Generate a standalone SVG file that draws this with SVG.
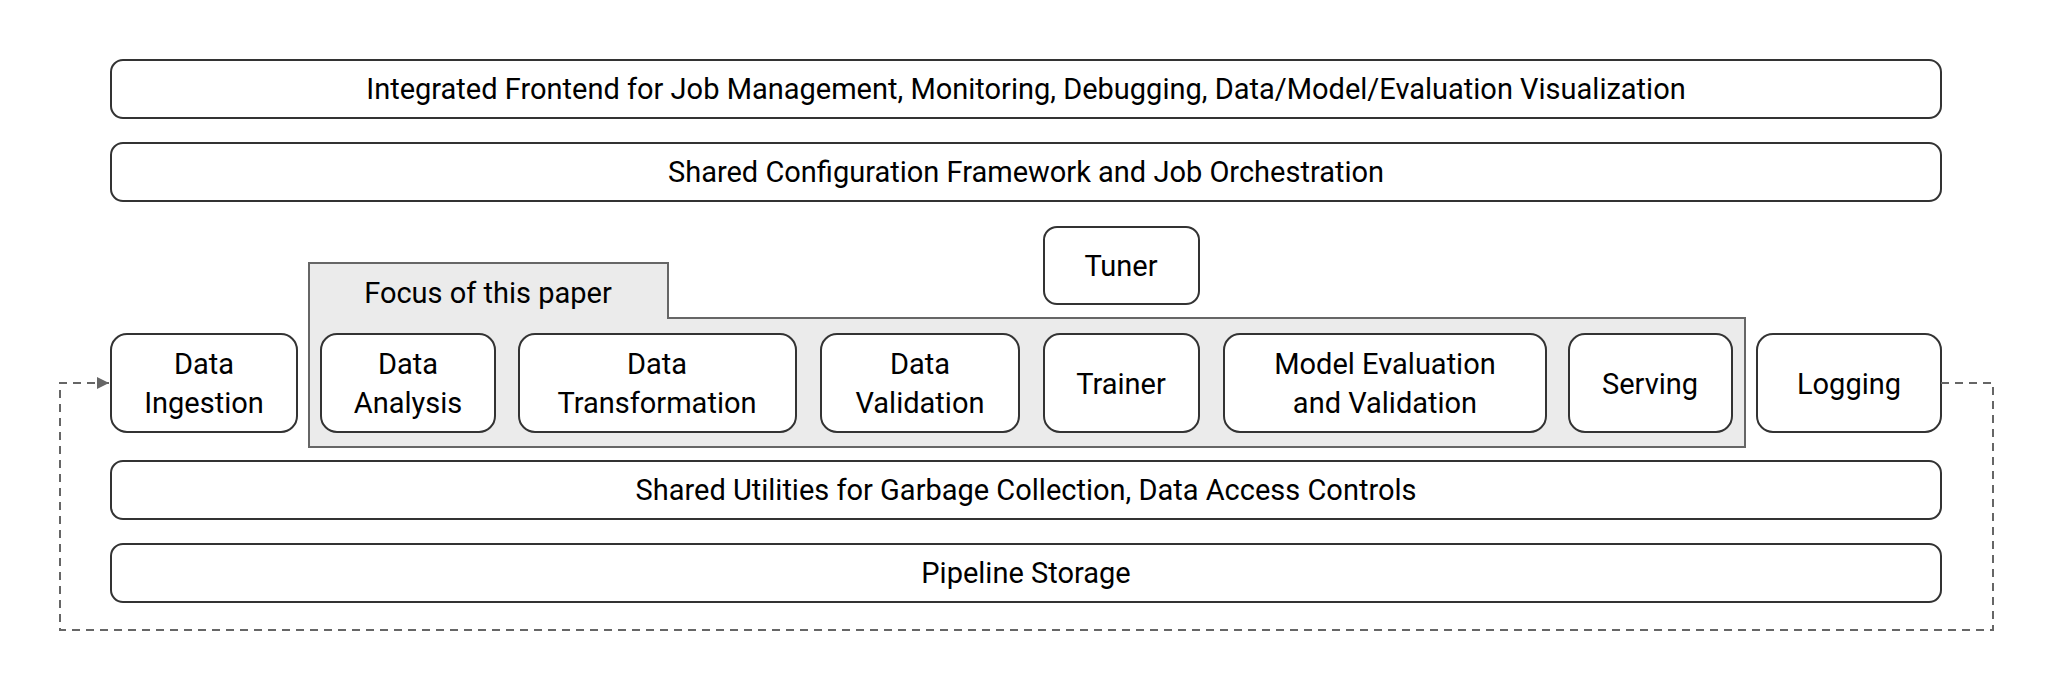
<svg xmlns="http://www.w3.org/2000/svg" width="2054" height="692" viewBox="0 0 2054 692">
<style>
.b{fill:#fff;stroke:#333;stroke-width:2}
.t{font-family:Roboto,"Liberation Sans",sans-serif;font-size:29px;fill:#000;text-anchor:middle}
.c{fill:none;stroke:#666;stroke-width:2;stroke-dasharray:8,6}
</style>
<defs><marker id="a" viewBox="0 0 10 10" refX="10" refY="5" markerWidth="6" markerHeight="6" orient="auto" markerUnits="strokeWidth"><path d="M0,0L10,5L0,10z" fill="#666"/></marker></defs>
<rect width="2054" height="692" fill="#fff"/>
<g id="frontend"><rect class="b" x="111" y="60" width="1830" height="58" rx="12"/><text class="t" x="1026" y="99">Integrated Frontend for Job Management, Monitoring, Debugging, Data/Model/Evaluation Visualization</text></g>
<g id="config"><rect class="b" x="111" y="143" width="1830" height="58" rx="12"/><text class="t" x="1026" y="182">Shared Configuration Framework and Job Orchestration</text></g>
<g id="tuner"><rect class="b" x="1044" y="227" width="155" height="77" rx="13"/><text class="t" x="1121" y="276">Tuner</text></g>
<g id="focus"><path d="M309,263H668V318H1745V447H309Z" fill="#ebebeb" stroke="#666" stroke-width="2"/><text class="t" x="488" y="303">Focus of this paper</text></g>
<g id="ingestion"><rect class="b" x="111" y="334" width="186" height="98" rx="16"/><text class="t" x="204" y="374">Data</text><text class="t" x="204" y="413">Ingestion</text></g>
<g id="analysis"><rect class="b" x="321" y="334" width="174" height="98" rx="16"/><text class="t" x="408" y="374">Data</text><text class="t" x="408" y="413">Analysis</text></g>
<g id="transformation"><rect class="b" x="519" y="334" width="277" height="98" rx="16"/><text class="t" x="657" y="374">Data</text><text class="t" x="657" y="413">Transformation</text></g>
<g id="validation"><rect class="b" x="821" y="334" width="198" height="98" rx="16"/><text class="t" x="920" y="374">Data</text><text class="t" x="920" y="413">Validation</text></g>
<g id="trainer"><rect class="b" x="1044" y="334" width="155" height="98" rx="16"/><text class="t" x="1121" y="394">Trainer</text></g>
<g id="modeleval"><rect class="b" x="1224" y="334" width="322" height="98" rx="16"/><text class="t" x="1385" y="374">Model Evaluation</text><text class="t" x="1385" y="413">and Validation</text></g>
<g id="serving"><rect class="b" x="1569" y="334" width="163" height="98" rx="16"/><text class="t" x="1650" y="394">Serving</text></g>
<g id="logging"><rect class="b" x="1757" y="334" width="184" height="98" rx="16"/><text class="t" x="1849" y="394">Logging</text></g>
<g id="utilities"><rect class="b" x="111" y="461" width="1830" height="58" rx="12"/><text class="t" x="1026" y="500">Shared Utilities for Garbage Collection, Data Access Controls</text></g>
<g id="storage"><rect class="b" x="111" y="544" width="1830" height="58" rx="12"/><text class="t" x="1026" y="583">Pipeline Storage</text></g>
<g id="connectors"><path class="c" d="M1941,383H1993V630H60V383H109" marker-end="url(#a)"/></g>
</svg>
